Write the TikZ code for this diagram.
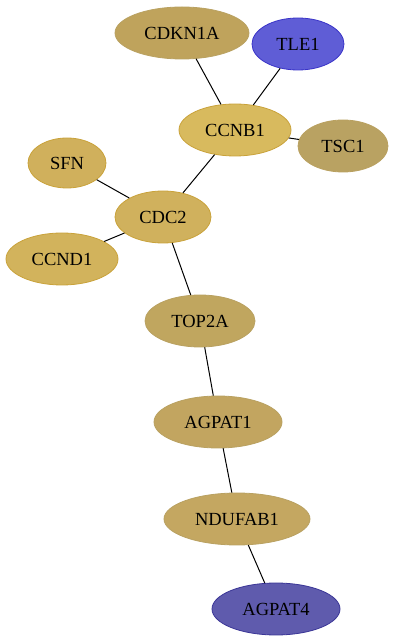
\documentclass[tikz,border=0pt]{standalone}
\usepackage{fontspec}
\setmainfont{Liberation Serif}
\usetikzlibrary{shapes.geometric}
\definecolor{cA}{HTML}{BFA35C}
\definecolor{cAb}{HTML}{A88A3A}
\definecolor{cTLE}{HTML}{5F5DD6}
\definecolor{cTLEb}{HTML}{3A34C8}
\definecolor{cCCNB}{HTML}{D8BA5E}
\definecolor{cTSC}{HTML}{B9A262}
\definecolor{cSFN}{HTML}{D0B05C}
\definecolor{cCDC}{HTML}{D0B15D}
\definecolor{cCCND}{HTML}{D2B35C}
\definecolor{cTOP}{HTML}{C0A65F}
\definecolor{cAG1}{HTML}{C2A560}
\definecolor{cNDU}{HTML}{C4A761}
\definecolor{cAG4}{HTML}{5F5BAD}
\definecolor{cAG4b}{HTML}{3A3596}
\definecolor{gb}{HTML}{C9A23A}
\tikzset{
  gene/.style={ellipse, draw=gb, line width=0.8pt, inner sep=0pt, minimum height=52pt, font=\fontsize{18.5}{18.5}\selectfont, text=black},
  link/.style={draw=black, line width=1pt}
}
\begin{document}
\begin{tikzpicture}[x=1pt,y=1pt]
\useasboundingbox (0,0) rectangle (396,643);
\node[gene, fill=cA, draw=cAb!80, minimum width=134pt] (CDKN1A) at (182,610) {CDKN1A};
\node[gene, fill=cTLE, draw=cTLEb, minimum width=92pt] (TLE1) at (298,599) {TLE1};
\node[gene, fill=cCCNB, minimum width=112pt] (CCNB1) at (235,513) {CCNB1};
\node[gene, fill=cTSC, draw=cAb!80, minimum width=90pt] (TSC1) at (343,497) {TSC1};
\node[gene, fill=cSFN, minimum width=78pt, minimum height=50pt] (SFN) at (67,480) {SFN};
\node[gene, fill=cCDC, minimum width=96pt] (CDC2) at (163,426) {CDC2};
\node[gene, fill=cCCND, minimum width=112pt] (CCND1) at (62,384) {CCND1};
\node[gene, fill=cTOP, draw=cAb!80, minimum width=110pt] (TOP2A) at (200,322) {TOP2A};
\node[gene, fill=cAG1, draw=cAb!80, minimum width=128pt] (AGPAT1) at (218,221) {AGPAT1};
\node[gene, fill=cNDU, draw=cAb!80, minimum width=146pt] (NDUFAB1) at (237,124) {NDUFAB1};
\node[gene, fill=cAG4, draw=cAG4b, minimum width=128pt] (AGPAT4) at (276,34) {AGPAT4};
\path[link] (CDKN1A) -- (CCNB1);
\path[link] (TLE1) -- (CCNB1);
\path[link] (CCNB1) -- (TSC1);
\path[link] (CCNB1) -- (CDC2);
\path[link] (SFN) -- (CDC2);
\path[link] (CCND1) -- (CDC2);
\path[link] (CDC2) -- (TOP2A);
\path[link] (TOP2A) -- (AGPAT1);
\path[link] (AGPAT1) -- (NDUFAB1);
\path[link] (NDUFAB1) -- (AGPAT4);
\end{tikzpicture}
\end{document}
